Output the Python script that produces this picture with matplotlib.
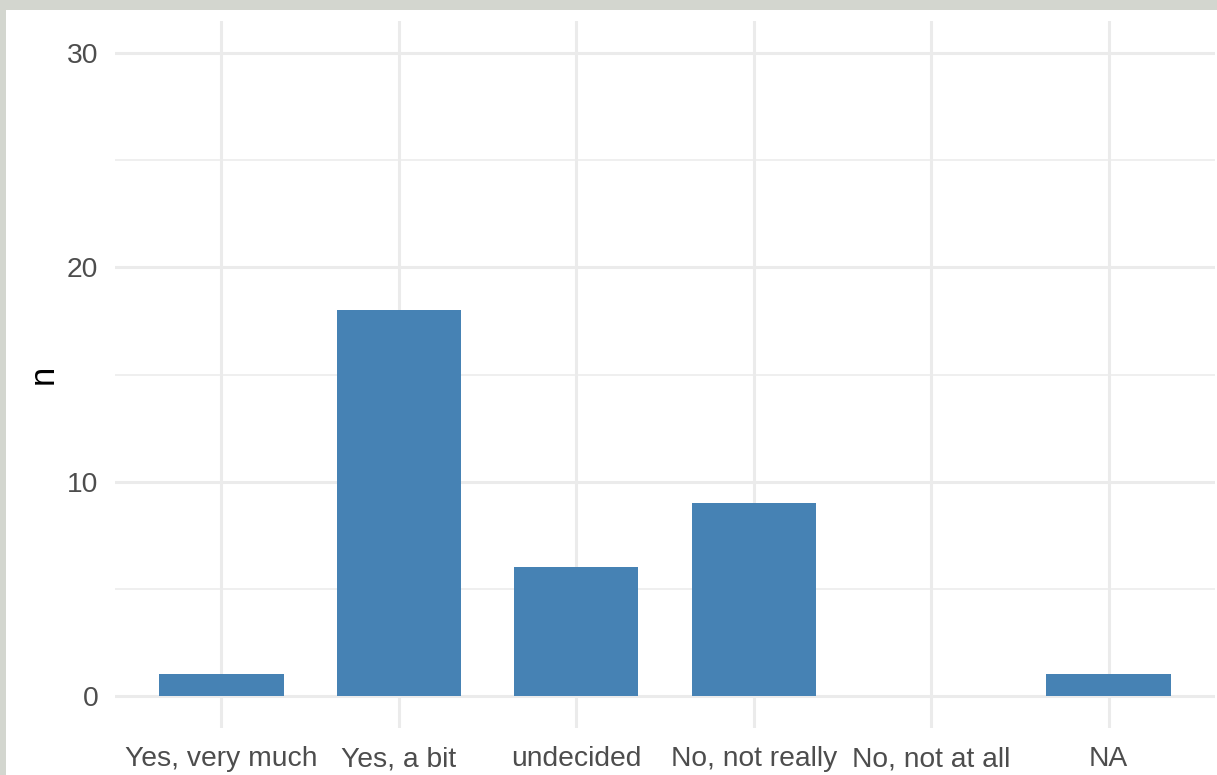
import matplotlib.pyplot as plt
from matplotlib.ticker import MultipleLocator

# Datos de la encuesta (conteos por respuesta)
categorias = ["Yes, very much", "Yes, a bit", "undecided", "No, not really", "No, not at all", "NA"]
conteos = [1, 18, 6, 9, 0, 1]
y_ticks = [0, 10, 20, 30]

plt.rcParams['font.family'] = ['Liberation Sans', 'DejaVu Sans']

W, H = 1217, 775
fig = plt.figure(figsize=(W / 100, H / 100), dpi=100)
fig.patch.set_facecolor('#d3d6cf')

# Panel blanco encima del fondo gris
bg = fig.add_axes([6 / W, 0, 1 - 6 / W, 1 - 10 / H], zorder=-1)
bg.set_facecolor('white')
bg.set_xticks([])
bg.set_yticks([])
for s in bg.spines.values():
    s.set_visible(False)

ax = fig.add_axes([115 / W, 1 - 728 / H, (1215 - 115) / W, (728 - 21) / H])
ax.set_facecolor('white')

x = range(1, len(categorias) + 1)
ax.bar(x, conteos, width=0.7, color='#4682b4', zorder=3)

ax.set_xlim(0.4, len(categorias) + 0.6)
ax.set_ylim(-1.5, 31.5)
ax.set_xticks(list(x))
ax.set_xticklabels(categorias)
ax.set_yticks(y_ticks)
ax.yaxis.set_minor_locator(MultipleLocator(5))

ax.grid(which='major', color='#ebebeb', linewidth=2.2, zorder=0)
ax.grid(which='minor', axis='y', color='#ebebeb', linewidth=1.1, zorder=0)
ax.set_axisbelow(True)

for s in ax.spines.values():
    s.set_visible(False)
ax.tick_params(which='both', length=0)
ax.tick_params(axis='x', labelsize=20.3, labelcolor='#4d4d4d', pad=13)
ax.tick_params(axis='y', labelsize=20.3, labelcolor='#4d4d4d', pad=12)

ax.set_ylabel('n', fontsize=25, color='black', labelpad=5)

plt.savefig('out.png', dpi=100, facecolor=fig.get_facecolor())
plt.close()
